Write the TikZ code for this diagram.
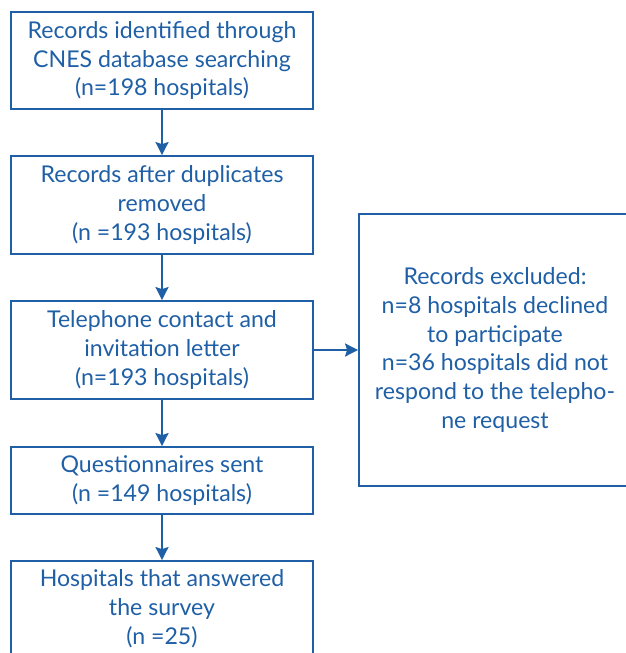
\documentclass[tikz,border=0pt]{standalone}
\usepackage{fontspec}
\setmainfont{Lato}
\usetikzlibrary{arrows.meta}
\definecolor{flowblue}{HTML}{1F5FA6}
\begin{document}
\begin{tikzpicture}[x=1bp,y=-1bp,
  box/.style={draw=flowblue, line width=1.8bp, inner sep=0pt, align=center,
    text=flowblue, minimum width=302bp, font=\fontsize{23.2}{29}\selectfont},
  conn/.style={draw=flowblue, line width=1.8bp, -{Stealth[length=13bp,width=13bp,inset=2bp]}}]
\useasboundingbox (0,0) rectangle (626,653);
\node[box, minimum height=97bp] (b1) at (162,60.5) {Records identified through\\CNES database searching\\(n=198 hospitals)};
\node[box, minimum height=98bp] (b2) at (162,205) {Records after duplicates\\removed\\(n =193 hospitals)};
\node[box, minimum height=98bp] (b3) at (162,350) {Telephone contact and\\invitation letter\\(n=193 hospitals)};
\node[box, minimum height=67bp] (b4) at (162,480.5) {Questionnaires sent\\(n =149 hospitals)};
\node[box, minimum height=95bp] (b5) at (162,608.5) {Hospitals that answered\\the survey\\(n =25)};
\node[box, minimum width=272bp, minimum height=272bp] (ex) at (495,350) {Records excluded:\\n=8 hospitals declined\\to participate\\n=36 hospitals did not\\respond to the telepho-\\ne request};
\draw[conn] (b1) -- (b2);
\draw[conn] (b2) -- (b3);
\draw[conn] (b3) -- (b4);
\draw[conn] (b4) -- (b5);
\draw[conn] (b3) -- (ex);
\end{tikzpicture}
\end{document}
